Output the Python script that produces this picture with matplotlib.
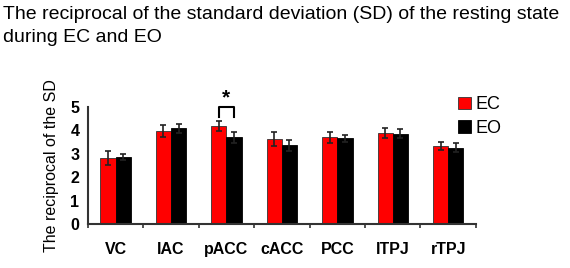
import numpy as np
import matplotlib.pyplot as plt

plt.rcParams['font.family'] = ['Liberation Sans', 'DejaVu Sans']

# regions and values
regions = ['VC', 'lAC', 'pACC', 'cACC', 'PCC', 'lTPJ', 'rTPJ']
ec_mean = [2.83, 3.97, 4.16, 3.62, 3.70, 3.87, 3.33]
ec_err = [0.30, 0.27, 0.21, 0.30, 0.24, 0.21, 0.17]
eo_mean = [2.86, 4.07, 3.70, 3.36, 3.65, 3.85, 3.25]
eo_err = [0.12, 0.20, 0.24, 0.23, 0.16, 0.20, 0.20]
series = ['EC', 'EO']

fig = plt.figure(figsize=(5.7, 2.68), dpi=100)
ax = fig.add_axes([0.154, 0.164, 0.681, 0.438])

idx = np.arange(len(regions))
width = 0.275
ekw = dict(elinewidth=1.2, capsize=2.5, capthick=1.2, ecolor='#222222')
b1 = ax.bar(idx - width/2, ec_mean, width, yerr=ec_err, color='#ff0000',
            edgecolor='#333333', linewidth=0.6, error_kw=ekw, label=series[0])
b2 = ax.bar(idx + width/2, eo_mean, width, yerr=eo_err, color='black',
            edgecolor='black', linewidth=0.6, error_kw=ekw, label=series[1])

ax.set_xlim(-0.5, len(regions) - 0.5)
ax.set_ylim(0, 5)
ax.set_yticks(range(6))
ax.set_yticklabels([str(i) for i in range(6)], fontsize=11.5, fontweight='bold')

# ticks between groups, labels centred under groups
ax.set_xticks(np.arange(len(regions) + 1) - 0.5)
ax.set_xticklabels([])
ax.set_xticks(idx, minor=True)
ax.set_xticklabels(regions, minor=True, fontsize=11.5, fontweight='bold')
ax.tick_params(axis='x', which='minor', length=0, pad=13)
ax.tick_params(axis='x', which='major', length=3, direction='out', width=1.2, color='#333333')
ax.tick_params(axis='y', length=0, pad=6)

for s in ['top', 'right']:
    ax.spines[s].set_visible(False)
ax.spines['left'].set_linewidth(1.5)
ax.spines['bottom'].set_linewidth(1.5)
ax.spines['left'].set_color('#333333')
ax.spines['bottom'].set_color('#333333')

ax.set_ylabel('The reciprocal of the SD', fontsize=11.5, labelpad=8)

# significance bracket on pACC
x0, x1 = 2 - width/2, 2 + width/2
ax.plot([x0, x0, x1, x1], [4.55, 4.98, 4.98, 4.55], color='black', lw=1.5,
        clip_on=False)
ax.text(2, 4.95, '*', ha='center', va='bottom', fontsize=15, fontweight='bold')

ax.legend(handles=[b1, b2], labels=series, loc='upper left',
          bbox_to_anchor=(0.935, 1.15), frameon=False, fontsize=13,
          handlelength=0.7, handleheight=0.7, handletextpad=0.25,
          labelspacing=0.35, borderaxespad=0)

fig.text(0.006, 0.978, 'The reciprocal of the standard deviation (SD) of the resting state\nduring EC and EO',
         ha='left', va='top', fontsize=14, linespacing=1.45)

fig.savefig('out.png', dpi=100)
